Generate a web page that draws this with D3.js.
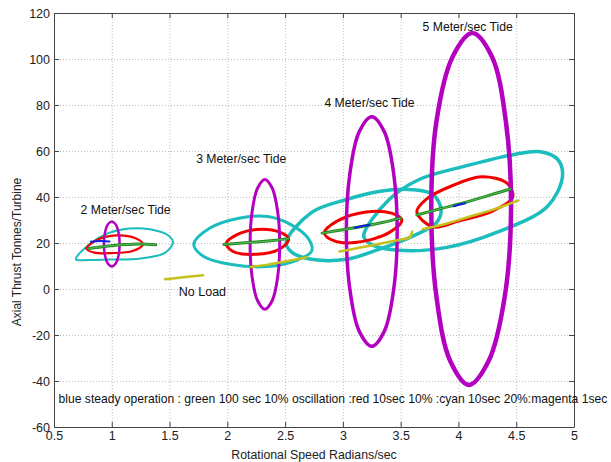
<!DOCTYPE html>
<html><head><meta charset="utf-8">
<script src="https://cdn.jsdelivr.net/npm/d3@7"></script>
<style>body{margin:0;background:#fff}</style>
</head><body>
<script>
// ---- data ----
const xTicks=[0.5,1,1.5,2,2.5,3,3.5,4,4.5,5];
const yTicks=[-60,-40,-20,0,20,40,60,80,100,120];
const tideLabels=["2 Meter/sec Tide","3 Meter/sec Tide","4 Meter/sec Tide","5 Meter/sec Tide"];
const tideLabelX=[0.73,1.73,2.84,3.69];
const tideLabelY=[32.5,55,79,112];
const noLoadLabel="No Load";
const noLoadLabelXY=[1.58,-3.2];
const noteText="blue steady operation : green 100 sec 10% oscillation :red 10sec 10% :cyan 10sec 20%:magenta 1sec";
const noteXY=[0.54,-49.6];
const xTitle="Rotational Speed Radians/sec";
const yTitle="Axial Thrust Tonnes/Turbine";

// 2 m/s tide
const cyan2=[[0.69,12.9],[0.82,20],[0.97,24.3],[1.15,26.3],[1.33,26],[1.48,23.6],[1.53,20.4],[1.46,15.7],[1.25,13.3],[0.97,12.8],[0.8,12.6]];
const red2=[[0.78,17.5],[0.88,21.5],[1.04,23.3],[1.2,22.2],[1.27,19.5],[1.18,16.5],[1.0,15.6],[0.85,15.8]];
const mag2=[[1.0,29.4],[1.034,28.1],[1.059,24.5],[1.068,19.6],[1.059,14.7],[1.034,11.1],[1.0,9.8],[0.966,11.1],[0.941,14.7],[0.932,19.6],[0.941,24.5],[0.966,28.1]];
const green2=[[0.8,17.6],[0.95,18.6],[1.1,19.3],[1.25,19.6],[1.38,19.2]];
const blue2=[[0.82,20.5],[0.9,20.9],[0.98,20.7]];
// no load
const yellowNL=[[1.46,4.2],[1.6,5.0],[1.79,6.0]];
// 3 m/s tide
const cyan3=[[1.71,19.4],[1.85,26.5],[2.1,30.8],[2.35,31.5],[2.55,28],[2.7,22],[2.73,16.5],[2.6,12.5],[2.35,9.8],[2.05,10.5],[1.8,14]];
const red3=[[1.99,19.8],[2.08,23.5],[2.25,25.9],[2.45,24.8],[2.53,21.6],[2.45,17.3],[2.25,15.1],[2.05,16.3]];
const mag3=[[2.325,47.6],[2.389,43.8],[2.436,33.5],[2.453,19.4],[2.436,5.3],[2.389,-5.0],[2.325,-8.8],[2.261,-5.0],[2.214,5.3],[2.197,19.4],[2.214,33.5],[2.261,43.8]];
const green3=[[1.97,19.4],[2.1,19.9],[2.25,20.4],[2.4,21.1],[2.53,21.9]];
const yellow3=[[2.2,9.6],[2.35,10.6],[2.5,12],[2.69,13.8]];
// 4 m/s tide
const cyan4=[[2.51,20.3],[2.73,33.3],[3.03,38.9],[3.31,42.4],[3.6,43.2],[3.78,41.1],[3.85,34.6],[3.81,28.9],[3.6,22.9],[3.31,17.2],[3.03,12.9],[2.73,12.9],[2.56,15.9]];
const red4=[[2.84,24.5],[2.95,29.5],[3.2,33.5],[3.42,33],[3.51,30],[3.4,24.5],[3.12,20.3],[2.92,21]];
const mag4=[[3.25,74.9],[3.36,68.2],[3.44,50],[3.47,25],[3.44,0],[3.36,-18.2],[3.25,-24.9],[3.14,-18.2],[3.06,0],[3.03,25],[3.06,50],[3.14,68.2]];
const green4=[[2.82,24.3],[3.0,25.8],[3.2,27.5],[3.35,29],[3.5,30.8]];
const blue4=[[3.1,26.6],[3.17,27.4],[3.23,27.8]];
const yellow4=[[2.97,16.3],[3.15,18],[3.35,20],[3.5,21.5],[3.58,22.5],[3.6,25]];
// 5 m/s tide
const cyan5=[[3.18,22.9],[3.4,38.9],[3.66,47.6],[4.04,53.2],[4.47,58.4],[4.71,59.7],[4.86,56.3],[4.9,48.9],[4.77,35.9],[4.33,24.6],[3.9,18.1],[3.49,16.8],[3.25,19.3]];
const red5=[[3.64,33.5],[3.72,39],[3.95,45],[4.2,48.8],[4.42,46],[4.47,40],[4.3,34],[4.0,29.5],[3.78,27]];
const mag5=[[4.12,111.3],[4.29,101],[4.41,73],[4.455,34.8],[4.40,-3.5],[4.26,-31.4],[4.09,-41.7],[3.93,-31.4],[3.81,-3.5],[3.765,34.8],[3.81,73],[3.95,101]];
const green5=[[3.64,32.2],[3.85,35],[4.05,37.5],[4.25,40.5],[4.45,43.5]];
const blue5=[[3.96,36],[4.01,36.7],[4.06,37.3]];
const yellow5=[[3.69,26],[3.9,28.5],[4.1,31.5],[4.3,34.5],[4.52,38.5]];

// ---- drawing ----
const W=611,H=462;
const M={left:54,right:W-574,top:13,bottom:H-427};
const FONT="'Liberation Sans', Arial, sans-serif";
const svg=d3.select("body").append("svg").attr("width",W).attr("height",H).style("font-family",FONT);
svg.append("rect").attr("width",W).attr("height",H).attr("fill","#fff");
const x=d3.scaleLinear().domain([0.5,5]).range([M.left,W-M.right]);
const y=d3.scaleLinear().domain([-60,120]).range([H-M.bottom,M.top]);

// grid
const grid=svg.append("g").attr("stroke","#bdbdbd").attr("stroke-dasharray","1,2").attr("stroke-width",1);
grid.selectAll(".gx").data(xTicks.slice(1,-1)).join("line")
  .attr("x1",d=>x(d)+0.5).attr("x2",d=>x(d)+0.5).attr("y1",y(120)).attr("y2",y(-60));
grid.selectAll(".gy").data(yTicks.slice(1,-1)).join("line")
  .attr("y1",d=>y(d)+0.5).attr("y2",d=>y(d)+0.5).attr("x1",x(0.5)).attr("x2",x(5));

// axes
function style(g){g.select(".domain").attr("stroke","#444");g.selectAll(".tick line").attr("stroke","#444");
  g.selectAll("text").attr("fill","#222").style("font-size","12.5px").style("font-family",FONT);}
svg.append("g").attr("transform",`translate(0,${y(-60)})`)
  .call(d3.axisBottom(x).tickValues(xTicks).tickFormat(d=>d).tickSizeInner(-5).tickSizeOuter(0).tickPadding(4)).call(style);
svg.append("g").attr("transform",`translate(0,${y(120)})`)
  .call(d3.axisTop(x).tickValues(xTicks).tickFormat("").tickSizeInner(-5).tickSizeOuter(0)).call(style);
svg.append("g").attr("transform",`translate(${x(0.5)},0)`)
  .call(d3.axisLeft(y).tickValues(yTicks).tickFormat(d=>d).tickSizeInner(-5).tickSizeOuter(0).tickPadding(4)).call(style);
svg.append("g").attr("transform",`translate(${x(5)},0)`)
  .call(d3.axisRight(y).tickValues(yTicks).tickFormat("").tickSizeInner(-5).tickSizeOuter(0)).call(style);

const closed=d3.line().x(d=>x(d[0])).y(d=>y(d[1])).curve(d3.curveCatmullRomClosed.alpha(0.5));
const open=d3.line().x(d=>x(d[0])).y(d=>y(d[1])).curve(d3.curveCatmullRom.alpha(0.5));
const plot=svg.append("g").attr("fill","none").attr("stroke-linejoin","round").attr("stroke-linecap","round");
const CY="#1bbdbd",MG="#b400c0",RD="#f20000",GR="#1f8a1f",YL="#c4c21a",BL="#1020e0";
function loop(pts,c,w){plot.append("path").attr("d",closed(pts)).attr("stroke",c).attr("stroke-width",w);}
function trace(pts,c,w){plot.append("path").attr("d",open(pts)).attr("stroke",c).attr("stroke-width",w);}

[[cyan2,2],[cyan3,3],[cyan4,3.5],[cyan5,3.5]].forEach(([p,w])=>loop(p,CY,w));
[[red2,2.2],[red3,3],[red4,3],[red5,3]].forEach(([p,w])=>loop(p,RD,w));
[[mag2,2.5],[mag3,3],[mag4,3.5],[mag5,4.5]].forEach(([p,w])=>loop(p,MG,w));
[yellowNL,yellow3,yellow4,yellow5].forEach(p=>trace(p,YL,2.5));
[green2,green3,green4,green5].forEach(p=>{trace(p,GR,3);trace(p,"#6cc66c",0.8);});
[blue2,blue4,blue5].forEach(p=>trace(p,BL,2));

// labels
const txt=svg.append("g").attr("fill","#111").style("font-size","12.2px");
txt.selectAll(".tl").data(tideLabels).join("text")
  .attr("x",(d,i)=>x(tideLabelX[i])).attr("y",(d,i)=>y(tideLabelY[i])).text(d=>d);
txt.append("text").attr("x",x(noLoadLabelXY[0])).attr("y",y(noLoadLabelXY[1])).style("font-size","12.5px").text(noLoadLabel);
txt.append("text").attr("x",x(noteXY[0])).attr("y",y(noteXY[1])).style("font-size","12.1px").text(noteText);
svg.append("text").attr("x",(x(0.5)+x(5))/2).attr("y",459).attr("text-anchor","middle")
  .style("font-size","12.3px").attr("fill","#222").text(xTitle);
svg.append("text").attr("transform","translate(21,252) rotate(-90)").attr("text-anchor","middle")
  .style("font-size","12px").attr("fill","#222").text(yTitle);
</script>
</body></html>
